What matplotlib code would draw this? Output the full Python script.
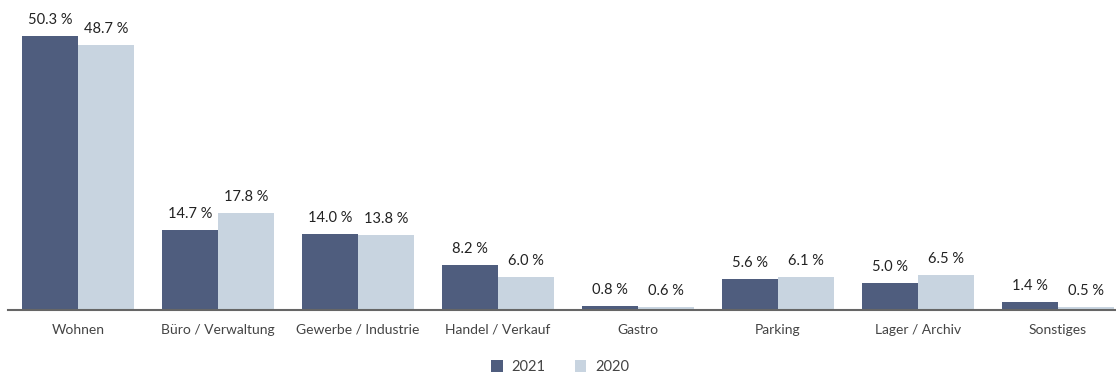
import matplotlib.pyplot as plt
import numpy as np

categories = ['Wohnen', 'Büro / Verwaltung', 'Gewerbe / Industrie', 'Handel / Verkauf',
              'Gastro', 'Parking', 'Lager / Archiv', 'Sonstiges']
share_2021 = [50.3, 14.7, 14.0, 8.2, 0.8, 5.6, 5.0, 1.4]
share_2020 = [48.7, 17.8, 13.8, 6.0, 0.6, 6.1, 6.5, 0.5]

dark = '#4f5d7e'
light = '#c8d4e0'
plt.rcParams['font.family'] = ['Lato', 'DejaVu Sans']

fig = plt.figure(figsize=(11.16, 3.74), dpi=100)
ax = fig.add_axes([8 / 1116, 64 / 374, 1108 / 1116, 300 / 374])

x = np.arange(len(categories))
w = 0.4
b1 = ax.bar(x - w / 2, share_2021, w, color=dark, label='2021')
b2 = ax.bar(x + w / 2, share_2020, w, color=light, label='2020')

# Prozentwerte über den Balken
for bars in (b1, b2):
    for bar in bars:
        h = bar.get_height()
        ax.annotate(f'{h:.1f} %', (bar.get_x() + bar.get_width() / 2, h),
                    xytext=(0, 6.5), textcoords='offset points',
                    ha='center', va='bottom', fontsize=10.5, color='#222222')

ax.set_xlim(-0.5, 7.414)
ax.set_ylim(0, 55.08)
ax.set_xticks(x)
ax.set_xticklabels(categories, fontsize=10, color='#444444')
ax.tick_params(axis='x', length=0, pad=10)
ax.set_yticks([])
for s in ('top', 'right', 'left'):
    ax.spines[s].set_visible(False)
ax.spines['bottom'].set_color('#666666')
ax.spines['bottom'].set_linewidth(1.5)

fig.legend(loc='center', bbox_to_anchor=(560 / 1116, 1 - 367 / 374), ncol=2,
           frameon=False, fontsize=10.5, handlelength=0.8, handleheight=0.8,
           columnspacing=2.0, handletextpad=0.6, labelcolor='#444444')

fig.savefig('out.png', dpi=100)
